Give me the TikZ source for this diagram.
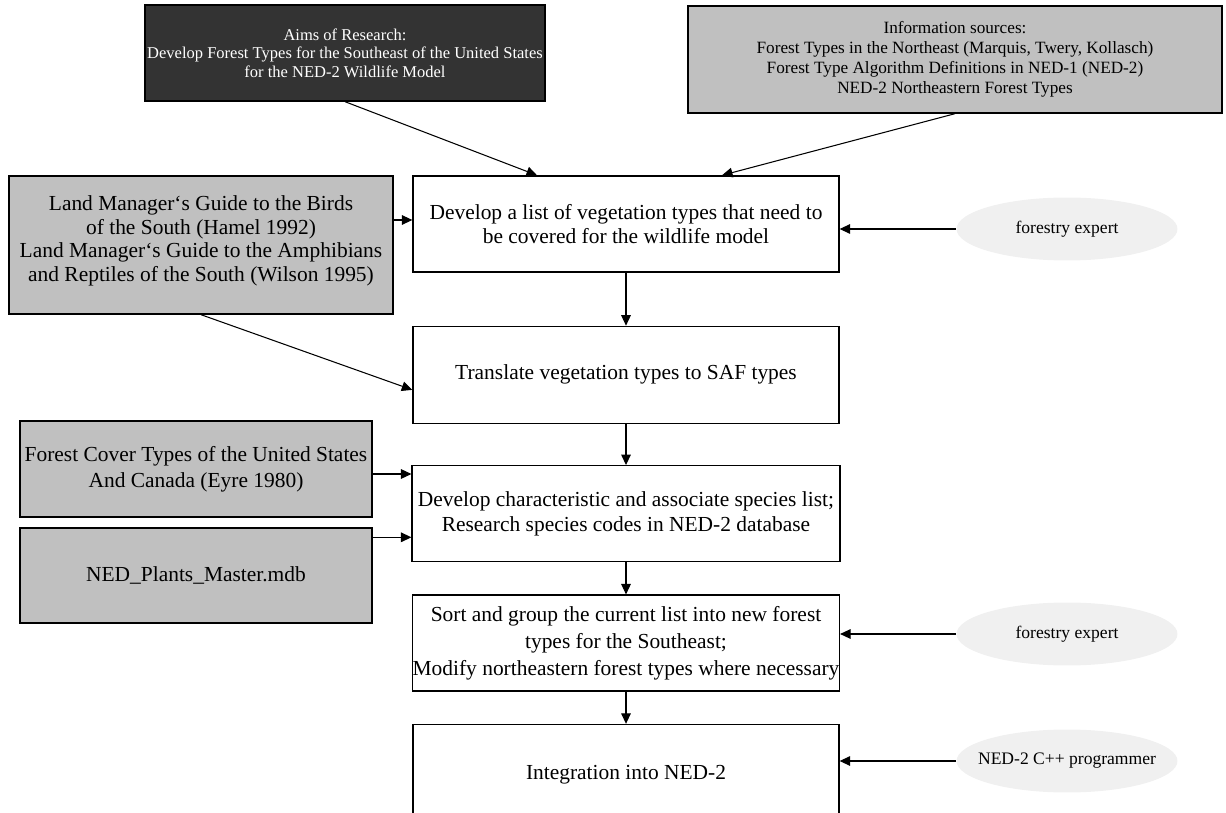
\documentclass[tikz,border=0pt]{standalone}
\usepackage{fontspec}
\setmainfont{Liberation Serif}
\usetikzlibrary{arrows.meta,shapes.geometric,positioning}
\definecolor{aimsdark}{HTML}{333333}
\definecolor{srcgray}{HTML}{C0C0C0}
\definecolor{rolegray}{HTML}{F0F0F0}

\begin{document}
\begin{tikzpicture}[x=0.02cm, y=-0.02cm, >={Triangle[length=6pt,width=5.5pt]},
  stepbox/.style={draw, line width=0.8pt, fill=white, minimum width=8.52cm, minimum height=1.92cm, align=center, font=\fontsize{12.2}{13.4}\selectfont},
  srcbox/.style={draw, line width=0.8pt, fill=srcgray, align=center, inner sep=1pt, font=\fontsize{12.2}{13.4}\selectfont},
  topbox/.style={draw, line width=0.8pt, align=center, inner sep=1pt, font=\fontsize{9.4}{10.6}\selectfont},
  role/.style={ellipse, fill=rolegray, minimum width=4.42cm, minimum height=1.26cm, inner sep=0pt,
    label={[font=\fontsize{10}{12}\selectfont]center:#1}},
  link/.style={->, line width=0.6pt}]
\useasboundingbox (0,0) rectangle (1226,813);

% main steps
\node (dev) [stepbox] at (626,224) {Develop a list of vegetation types that need to\\be covered for the wildlife model};
\node (trans) [stepbox, minimum height=1.94cm, below=1.06cm of dev] {Translate vegetation types to SAF types};
\node (devchar) [stepbox, below=0.82cm of trans, font=\fontsize{12.2}{14.2}\selectfont] {Develop characteristic and associate species list;\\Research species codes in NED-2 database};
\node (sort) [stepbox, inner xsep=0pt, below=0.64cm of devchar, font=\fontsize{12.2}{15.3}\selectfont] {Sort and group the current list into new forest\\types for the Southeast;\\Modify northeastern forest types where necessary};
\node (integ) [stepbox, minimum height=2cm, below=0.64cm of sort] {Integration into NED-2};

% sources
\node (aims) [topbox, fill=aimsdark, text=white, minimum width=8cm, minimum height=1.92cm] at (345,53) {Aims of Research:\\Develop Forest Types for the Southeast of the United States\\for the NED-2 Wildlife Model};
\node (info) [topbox, fill=srcgray, minimum width=10.68cm, minimum height=2.14cm, font=\fontsize{9.8}{11.3}\selectfont] at (955,59.5) {Information sources:\\Forest Types in the Northeast (Marquis, Twery, Kollasch)\\Forest Type Algorithm Definitions in NED-1 (NED-2)\\NED-2 Northeastern Forest Types};
\node (land) [srcbox, minimum width=7.68cm, minimum height=2.76cm, text depth=0.25cm] at (201,245) {Land Manager‘s Guide to the Birds\\of the South (Hamel 1992)\\Land Manager‘s Guide to the Amphibians\\and Reptiles of the South (Wilson 1995)};
\node (forest) [srcbox, minimum width=7.04cm, minimum height=1.92cm, font=\fontsize{12.2}{14.7}\selectfont] at (196,469) {Forest Cover Types of the United States\\And Canada (Eyre 1980)};
\node (ned) [srcbox, minimum width=7.04cm, minimum height=1.9cm] at (196,575.5) {NED\_Plants\_Master.mdb};

% people
\node (expert1) [role=forestry expert] at (1067,229) {};
\node (expert2) [role=forestry expert] at (1067,634) {};
\node (coder) [role=NED-2 C++ programmer] at (1067,761) {};

% connectors
\coordinate (aimsend) at ([xshift=-1.78cm]dev.north);
\coordinate (infoend) at ([xshift=1.92cm]dev.north);
\coordinate (landend) at ([yshift=-0.3cm]trans.west);
\coordinate (landout) at ([yshift=0.08cm]dev.west -| land.east);
\coordinate (forestout) at ([yshift=-0.1cm]forest.east);
\coordinate (nedout) at ([yshift=-0.2cm]ned.north east);
\draw[link] (aims.south) -- (aimsend);
\draw[link] (info.south) -- (infoend);
\draw[link] (landout) -- (landout -| dev.west);
\draw[link] (land.south) -- (landend);
\draw[link] (forestout) -- (forestout -| devchar.west);
\draw[link] (nedout) -- (nedout -| devchar.west);
\draw[link] (dev) -- (trans);
\draw[link] (trans) -- (devchar);
\draw[link] (devchar) -- (sort);
\draw[link] (sort) -- (integ);
\draw[link] (expert1.west) -- (expert1.west -| dev.east);
\draw[link] (expert2.west) -- (expert2.west -| sort.east);
\draw[link] (coder.west) -- (coder.west -| integ.east);
\end{tikzpicture}
\end{document}
